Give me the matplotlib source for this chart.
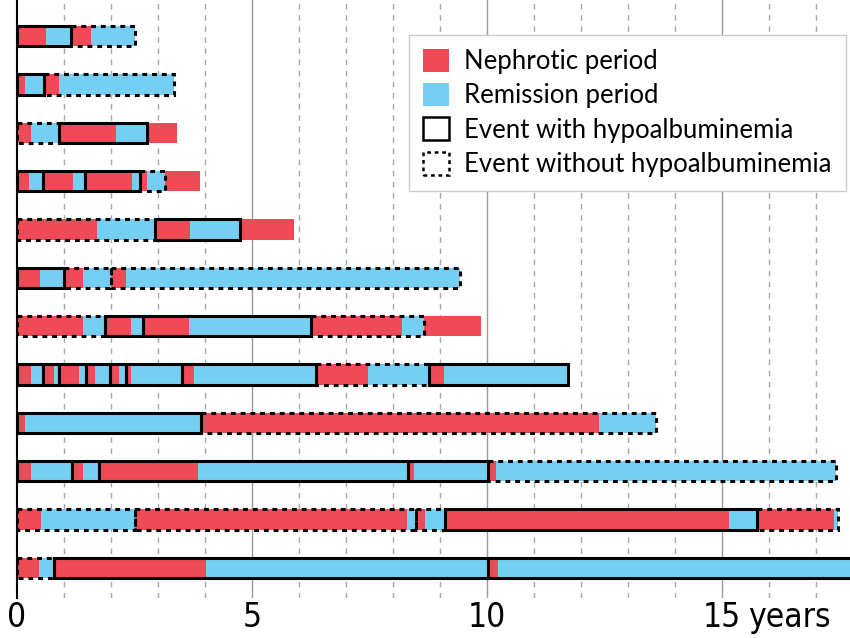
import matplotlib
matplotlib.use("Agg")
import matplotlib.pyplot as plt
from matplotlib import font_manager
from matplotlib.patches import Patch, Rectangle

# each event: (start, end of nephrotic period, end of remission period, box)
# box: 'solid' = with hypoalbuminemia, 'dashed' = without, 'none' = open
patient_1 = [(0, 0.62, 1.15, 'solid'), (1.15, 1.57, 2.52, 'dashed')]
patient_2 = [(0, 0.17, 0.58, 'solid'), (0.58, 0.90, 3.35, 'dashed')]
patient_3 = [(0, 0.30, 0.90, 'dashed'), (0.90, 2.11, 2.77, 'solid'), (2.77, 3.40, 3.40, 'none')]
patient_4 = [(0, 0.26, 0.55, 'solid'), (0.55, 1.20, 1.44, 'solid'), (1.44, 2.45, 2.62, 'solid'),
             (2.62, 2.77, 3.14, 'dashed'), (3.14, 3.90, 3.90, 'none')]
patient_5 = [(0, 1.70, 2.94, 'dashed'), (2.94, 3.69, 4.75, 'solid'), (4.75, 5.90, 5.90, 'none')]
patient_6 = [(0, 0.48, 1.01, 'solid'), (1.01, 1.41, 2.00, 'dashed'), (2.00, 2.32, 9.42, 'dashed')]
patient_7 = [(0, 1.41, 1.88, 'dashed'), (1.88, 2.43, 2.69, 'solid'), (2.69, 3.65, 6.25, 'solid'),
             (6.25, 8.20, 8.65, 'dashed'), (8.65, 9.86, 9.86, 'none')]
patient_8 = [(0, 0.30, 0.55, 'solid'), (0.55, 0.78, 0.90, 'solid'), (0.90, 1.31, 1.47, 'solid'),
             (1.47, 1.66, 1.98, 'solid'), (1.98, 2.16, 2.32, 'solid'), (2.32, 2.43, 3.51, 'solid'),
             (3.51, 3.77, 6.35, 'solid'), (6.35, 7.46, 8.76, 'dashed'), (8.76, 9.09, 11.72, 'solid')]
patient_9 = [(0, 0.17, 3.92, 'solid'), (3.92, 12.37, 13.60, 'dashed')]
patient_10 = [(0, 0.29, 1.18, 'solid'), (1.18, 1.41, 1.75, 'solid'), (1.75, 3.85, 8.32, 'solid'),
              (8.32, 8.44, 10.01, 'solid'), (10.01, 10.18, 17.43, 'dashed')]
patient_11 = [(0, 0.50, 2.52, 'dashed'), (2.52, 8.29, 8.49, 'dashed'), (8.49, 8.68, 9.10, 'dashed'),
              (9.10, 15.15, 15.75, 'solid'), (15.75, 17.37, 17.46, 'dashed')]
patient_12 = [(0, 0.47, 0.79, 'dashed'), (0.79, 4.03, 10.02, 'solid'), (10.02, 10.23, 18.2, 'solid')]

patients = [patient_1, patient_2, patient_3, patient_4, patient_5, patient_6,
            patient_7, patient_8, patient_9, patient_10, patient_11, patient_12]

major_ticks = [0, 5, 10, 15]
tick_labels = ['0', '5', '10', '15']

red = '#EF4A55'
blue = '#75CFF3'
h = 0.42

# look for a narrow font for the axis labels
tick_font = None
for f in font_manager.fontManager.ttflist:
    if f.name in ('Liberation Sans Narrow', 'Roboto Condensed', 'DejaVu Sans Condensed') or \
            (f.name in ('DejaVu Sans', 'Roboto', 'Open Sans', 'Noto Sans') and 'condensed' in str(f.stretch)
             and f.style == 'normal' and f.weight in (400, 'normal')):
        tick_font = font_manager.FontProperties(fname=f.fname, size=24)
        break
if tick_font is None:
    tick_font = font_manager.FontProperties(family=['Roboto', 'DejaVu Sans'], size=23)

fig = plt.figure(figsize=(8.5, 6.38), dpi=100)
ax = fig.add_axes([17 / 850, 1 - 598 / 638, 1 - 17 / 850, 598 / 638])

for x in range(1, 18):
    if x % 5 == 0:
        ax.axvline(x, color='#9a9a9a', lw=1.0, zorder=0)
    else:
        ax.axvline(x, color='#a8a8a8', lw=1.0, ls=(0, (4, 4)), zorder=0)

for i, events in enumerate(patients):
    for start, switch, end, box in events:
        ax.barh(i, switch - start, left=start, height=h, color=red, lw=0, zorder=2)
        if end > switch:
            ax.barh(i, end - switch, left=switch, height=h, color=blue, lw=0, zorder=2)
        if box != 'none':
            ls = '-' if box == 'solid' else (0, (1.6, 1.6))
            ax.add_patch(Rectangle((start, i - h / 2), end - start, h, fill=False,
                                   edgecolor='black', lw=2.2, ls=ls, zorder=3))

ax.set_xlim(0, 17.72)
ax.set_ylim(11.62, -0.744)
ax.set_yticks([])
ax.set_xticks(major_ticks)
ax.set_xticklabels(tick_labels, fontproperties=tick_font)
ax.tick_params(axis='x', length=0, pad=2)
ax.annotate('years', xy=(15, 0), xycoords=('data', 'axes fraction'), xytext=(19, -2),
            textcoords='offset points', ha='left', va='top', fontproperties=tick_font)
for s in ['top', 'right', 'bottom']:
    ax.spines[s].set_visible(False)
ax.spines['left'].set_linewidth(1.5)
ax.spines['left'].set_zorder(4)

handles = [Patch(facecolor=red, edgecolor='none', label='Nephrotic period'),
           Patch(facecolor=blue, edgecolor='none', label='Remission period'),
           Patch(facecolor='white', edgecolor='black', lw=1.8, label='Event with hypoalbuminemia'),
           Patch(facecolor='white', edgecolor='black', lw=1.8, ls=(0, (1.5, 1.5)),
                 label='Event without hypoalbuminemia')]
leg = ax.legend(handles=handles, loc='upper right', bbox_to_anchor=(0.995, 0.942),
                borderaxespad=0, handlelength=1.0, handleheight=1.0, handletextpad=0.6,
                labelspacing=0.35, borderpad=0.55, fancybox=False, framealpha=1,
                prop={'family': ['Lato', 'DejaVu Sans'], 'size': 18.5})
leg.get_frame().set_edgecolor('#cccccc')
leg.set_zorder(5)

fig.savefig('out.png', dpi=100)
